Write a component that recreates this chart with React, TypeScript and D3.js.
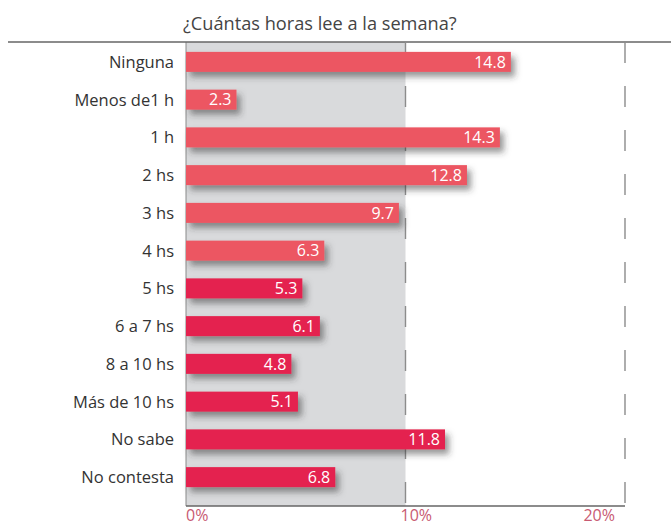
import React from "react";
import * as d3 from "d3";

const categories = [
  "Ninguna",
  "Menos de1 h",
  "1 h",
  "2 hs",
  "3 hs",
  "4 hs",
  "5 hs",
  "6 a 7 hs",
  "8 a 10 hs",
  "Más de 10 hs",
  "No sabe",
  "No contesta",
];
const values = [14.8, 2.3, 14.3, 12.8, 9.7, 6.3, 5.3, 6.1, 4.8, 5.1, 11.8, 6.8];
const ticks = [0, 10, 20];
const title = "¿Cuántas horas lee a la semana?";

const W = 671;
const H = 527;
const FONT = "'Open Sans', 'Noto Sans', sans-serif";

export default function App() {
  const x = d3.scaleLinear().domain([0, 20]).range([186, 625]);
  const y = d3
    .scaleBand<string>()
    .domain(categories)
    .range([43, 496])
    .paddingInner(0.47)
    .paddingOuter(0.235);
  const top = 42;
  const bottom = 506;
  const tickAnchor = (t: number) => (t === 20 ? "end" : "start");
  const tickDx = (t: number) => (t === 0 ? 0 : t === 20 ? -10 : -5);

  return (
    <svg
      width={W}
      height={H}
      style={{ position: "absolute", left: 0, top: 0, background: "#fff" }}
      fontFamily={FONT}
    >
      <defs>
        <filter id="sh" x="-10%" y="-50%" width="130%" height="250%">
          <feDropShadow dx={4} dy={5} stdDeviation={3} floodColor="#333" floodOpacity={0.5} />
        </filter>
      </defs>
      <rect x={0} y={0} width={W} height={H} fill="#fff" />
      <text x={x(0) - 3} y={30} fontSize={18.2} fill="#444">
        {title}
      </text>
      {/* gray band */}
      <rect x={x(0)} y={top} width={x(10) - x(0)} height={bottom - top} fill="#d9dadc" />
      <line x1={x(0)} x2={x(0)} y1={top} y2={bottom} stroke="#8a8a8a" strokeWidth={1} />
      {/* top rule */}
      <line x1={8} x2={W} y1={top} y2={top} stroke="#666" strokeWidth={1.5} />
      {/* dashed grid lines */}
      {ticks
        .filter((t) => t > 0)
        .map((t) => (
          <line
            key={t}
            x1={x(t)}
            x2={x(t)}
            y1={top}
            y2={bottom}
            stroke="#8c8c8c"
            strokeWidth={1.4}
            strokeDasharray="21 23"
          />
        ))}
      {/* bars */}
      {categories.map((c, i) => (
        <rect
          key={c}
          x={x(0)}
          y={y(c)}
          width={x(values[i]) - x(0)}
          height={y.bandwidth()}
          fill={i < 6 ? "#ec5762" : "#e4234f"}
          filter="url(#sh)"
        />
      ))}
      {/* value labels */}
      {categories.map((c, i) => (
        <text
          key={c}
          x={x(values[i]) - 5}
          y={(y(c) as number) + y.bandwidth() / 2}
          dy="0.36em"
          textAnchor="end"
          fontSize={16}
          fill="#fff"
        >
          {values[i].toFixed(1)}
        </text>
      ))}
      {/* category labels */}
      {categories.map((c) => (
        <text
          key={c}
          x={174}
          y={(y(c) as number) + y.bandwidth() / 2}
          dy="0.36em"
          textAnchor="end"
          fontSize={16.5}
          fill="#333"
        >
          {c}
        </text>
      ))}
      {/* bottom axis */}
      <line x1={x(0)} x2={x(20)} y1={bottom} y2={bottom} stroke="#666" strokeWidth={1.5} />
      {ticks.map((t) => (
        <text
          key={t}
          x={x(t) + tickDx(t)}
          y={521}
          textAnchor={tickAnchor(t)}
          fontSize={16}
          fill="#c85a72"
        >
          {t}%
        </text>
      ))}
    </svg>
  );
}
